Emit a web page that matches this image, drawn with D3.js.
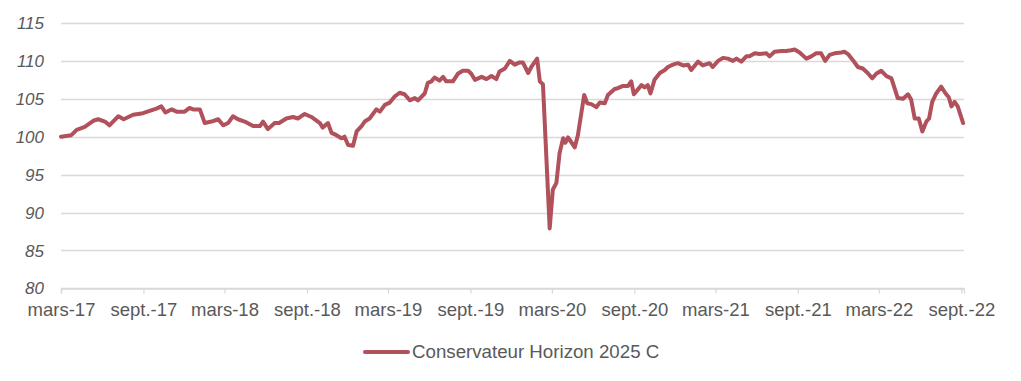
<!DOCTYPE html>
<html lang="fr">
<head>
<meta charset="UTF-8">
<title>Conservateur Horizon 2025 C</title>
<script src="https://d3js.org/d3.v7.min.js"></script>
<style>
    body { margin: 0; background: #fff; font-family: "Liberation Sans", Arial, sans-serif; }
    .grid line { stroke: #d9d9d9; stroke-width: 1.3px; }
    .ylab { font-size: 17px; font-style: italic; fill: #595959; }
    .xlab { font-size: 18.5px; fill: #595959; }
    .legend-text { font-size: 18.7px; fill: #595959; }
</style>
</head>
<body>
<svg id="chart"></svg>
<script>
    // Valeurs
    const dates = [
        "2017-03-01","2017-03-24","2017-04-05","2017-04-23","2017-05-12","2017-05-23","2017-06-07","2017-06-17",
        "2017-07-07","2017-07-19","2017-08-09","2017-08-31","2017-09-15","2017-09-30","2017-10-11","2017-10-20",
        "2017-11-03","2017-11-14","2017-12-02","2017-12-13","2017-12-21","2018-01-05","2018-01-16","2018-01-31",
        "2018-02-15","2018-02-26","2018-03-09","2018-03-20","2018-03-31","2018-04-15","2018-05-04","2018-05-19",
        "2018-05-26","2018-06-06","2018-06-21","2018-07-01","2018-07-17","2018-08-01","2018-08-12","2018-08-27",
        "2018-09-11","2018-09-30","2018-10-06","2018-10-18","2018-10-26","2018-11-06","2018-11-17","2018-11-24",
        "2018-12-02","2018-12-13","2018-12-21","2019-01-01","2019-01-08","2019-01-19","2019-02-03","2019-02-11",
        "2019-02-22","2019-03-05","2019-03-16","2019-03-27","2019-04-07","2019-04-19","2019-04-30","2019-05-07",
        "2019-05-22","2019-05-29","2019-06-06","2019-06-13","2019-06-24","2019-07-02","2019-07-09","2019-07-24",
        "2019-08-04","2019-08-15","2019-08-27","2019-09-03","2019-09-11","2019-09-26","2019-10-07","2019-10-18",
        "2019-10-29","2019-11-05","2019-11-17","2019-11-28","2019-12-09","2019-12-20","2019-12-27","2020-01-08",
        "2020-01-15","2020-01-28","2020-02-03","2020-02-10","2020-02-25","2020-03-03","2020-03-11","2020-03-18",
        "2020-03-26","2020-03-31","2020-04-06","2020-04-13","2020-04-21","2020-04-28","2020-05-12","2020-05-19",
        "2020-05-28","2020-06-08","2020-06-16","2020-06-27","2020-07-04","2020-07-19","2020-07-26","2020-08-07",
        "2020-08-18","2020-08-25","2020-08-31","2020-09-17","2020-09-24","2020-10-01","2020-10-07","2020-10-16",
        "2020-10-28","2020-11-08","2020-11-15","2020-11-26","2020-12-07","2020-12-19","2020-12-30","2021-01-06",
        "2021-01-21","2021-02-01","2021-02-16","2021-02-23","2021-03-07","2021-03-18","2021-03-29","2021-04-09",
        "2021-04-17","2021-04-28","2021-05-09","2021-05-16","2021-05-28","2021-06-08","2021-06-23","2021-06-30",
        "2021-07-11","2021-07-26","2021-08-06","2021-08-17","2021-08-25","2021-09-05","2021-09-20","2021-10-01",
        "2021-10-12","2021-10-23","2021-11-01","2021-11-11","2021-11-22","2021-12-07","2021-12-14","2021-12-22",
        "2022-01-02","2022-01-13","2022-01-24","2022-02-04","2022-02-14","2022-02-23","2022-03-06","2022-03-18",
        "2022-03-29","2022-04-05","2022-04-12","2022-04-24","2022-05-05","2022-05-12","2022-05-20","2022-05-29",
        "2022-06-06","2022-06-15","2022-06-21","2022-06-28","2022-07-07","2022-07-18","2022-07-28","2022-08-04",
        "2022-08-10","2022-08-17","2022-08-24","2022-09-05"
    ];
    const values = [
        100.0,100.2,100.9,101.3,102.1,102.3,102.0,101.5,
        102.7,102.3,102.9,103.1,103.4,103.7,104.0,103.2,
        103.6,103.3,103.3,103.8,103.6,103.6,101.8,102.0,
        102.3,101.5,101.8,102.7,102.3,102.0,101.4,101.4,
        102.0,101.0,101.8,101.8,102.4,102.6,102.4,103.0,
        102.6,101.8,101.2,101.8,100.5,100.2,99.8,100.0,
        98.9,98.8,100.7,101.4,102.0,102.4,103.6,103.3,
        104.2,104.5,105.3,105.8,105.6,104.8,105.1,104.8,
        105.7,107.1,107.3,107.8,107.4,107.9,107.3,107.3,
        108.3,108.7,108.7,108.3,107.5,107.9,107.6,108.0,
        107.6,108.6,109.0,110.0,109.5,109.8,109.8,108.4,
        109.2,110.3,107.3,106.9,87.9,93.0,93.9,97.8,
        99.8,99.2,99.9,99.3,98.6,100.2,105.5,104.4,
        104.3,103.9,104.5,104.4,105.5,106.3,106.4,106.7,
        106.7,107.3,105.6,106.8,106.5,106.8,105.7,107.5,
        108.4,108.8,109.2,109.5,109.7,109.4,109.5,108.8,
        109.9,109.4,109.7,109.2,110.0,110.4,110.3,110.0,
        110.3,109.9,110.6,110.6,111.0,110.9,111.0,110.6,
        111.2,111.3,111.3,111.4,111.5,111.1,110.3,110.6,
        111.0,111.0,110.0,110.8,111.0,111.1,111.2,110.9,
        110.1,109.2,109.0,108.4,107.7,108.3,108.7,108.0,
        107.7,106.4,105.1,105.0,105.6,104.9,102.4,102.4,
        100.7,102.0,102.4,104.6,105.7,106.6,105.7,105.2,
        104.0,104.6,104.0,101.8
    ];
    const seriesName = "Conservateur Horizon 2025 C";
    const tickLabels = ["mars-17","sept.-17","mars-18","sept.-18","mars-19","sept.-19",
                        "mars-20","sept.-20","mars-21","sept.-21","mars-22","sept.-22"];
    const yTicks = [80, 85, 90, 95, 100, 105, 110, 115];

    const width = 1021, height = 381;
    const margin = {left: 61, right: 57, top: 23, bottom: 93};

    const parse = d3.timeParse("%Y-%m-%d");
    const data = dates.map((d, i) => ({date: parse(d), value: values[i]}));
    const tickDates = tickLabels.map((l, i) => d3.timeMonth.offset(parse("2017-03-01"), i * 6));

    const svg = d3.select("#chart").attr("width", width).attr("height", height);

    const x = d3.scaleTime()
        .domain([parse("2017-03-01"), parse("2022-09-07")])
        .range([margin.left, width - margin.right]);

    const y = d3.scaleLinear()
        .domain([80, 115])
        .range([height - margin.bottom + 0.3, margin.top]);

    // grille horizontale
    svg.append("g").attr("class", "grid")
        .selectAll("line")
        .data(yTicks)
        .join("line")
        .attr("x1", x.range()[0])
        .attr("x2", x.range()[1])
        .attr("y1", d => Math.round(y(d)) + 0.5)
        .attr("y2", d => Math.round(y(d)) + 0.5);

    // libellés axe Y
    svg.append("g")
        .selectAll("text")
        .data(yTicks)
        .join("text")
        .attr("class", "ylab")
        .attr("x", 44)
        .attr("y", d => y(d))
        .attr("dy", "0.36em")
        .attr("text-anchor", "end")
        .text(d => d);

    // axe X
    const xAxis = d3.axisBottom(x)
        .tickValues(tickDates)
        .tickSize(5)
        .tickPadding(9)
        .tickFormat((d, i) => tickLabels[i]);

    const gx = svg.append("g")
        .attr("transform", `translate(0,${Math.round(y(80)) + 0.5})`)
        .call(xAxis);
    gx.select(".domain").attr("stroke", "#d9d9d9").attr("stroke-width", 1.3);
    gx.selectAll(".tick line").attr("stroke", "#d9d9d9").attr("stroke-width", 1.3);
    gx.selectAll(".tick text")
        .attr("class", "xlab")
        .attr("font-family", null)
        .attr("font-size", null)
        .attr("fill", null);
    gx.attr("font-family", null).attr("font-size", null);

    // courbe
    const line = d3.line()
        .x(d => x(d.date))
        .y(d => y(d.value));

    svg.append("path")
        .datum(data)
        .attr("fill", "none")
        .attr("stroke", "#b0515b")
        .attr("stroke-width", 4)
        .attr("stroke-linejoin", "round")
        .attr("stroke-linecap", "round")
        .attr("d", line);

    // légende
    const legend = svg.append("g").attr("transform", "translate(365,352)");
    legend.append("line")
        .attr("x1", 0).attr("x2", 43)
        .attr("stroke", "#b0515b")
        .attr("stroke-width", 4)
        .attr("stroke-linecap", "round");
    legend.append("text")
        .attr("class", "legend-text")
        .attr("x", 47)
        .attr("y", 6)
        .text(seriesName);
</script>
</body>
</html>
